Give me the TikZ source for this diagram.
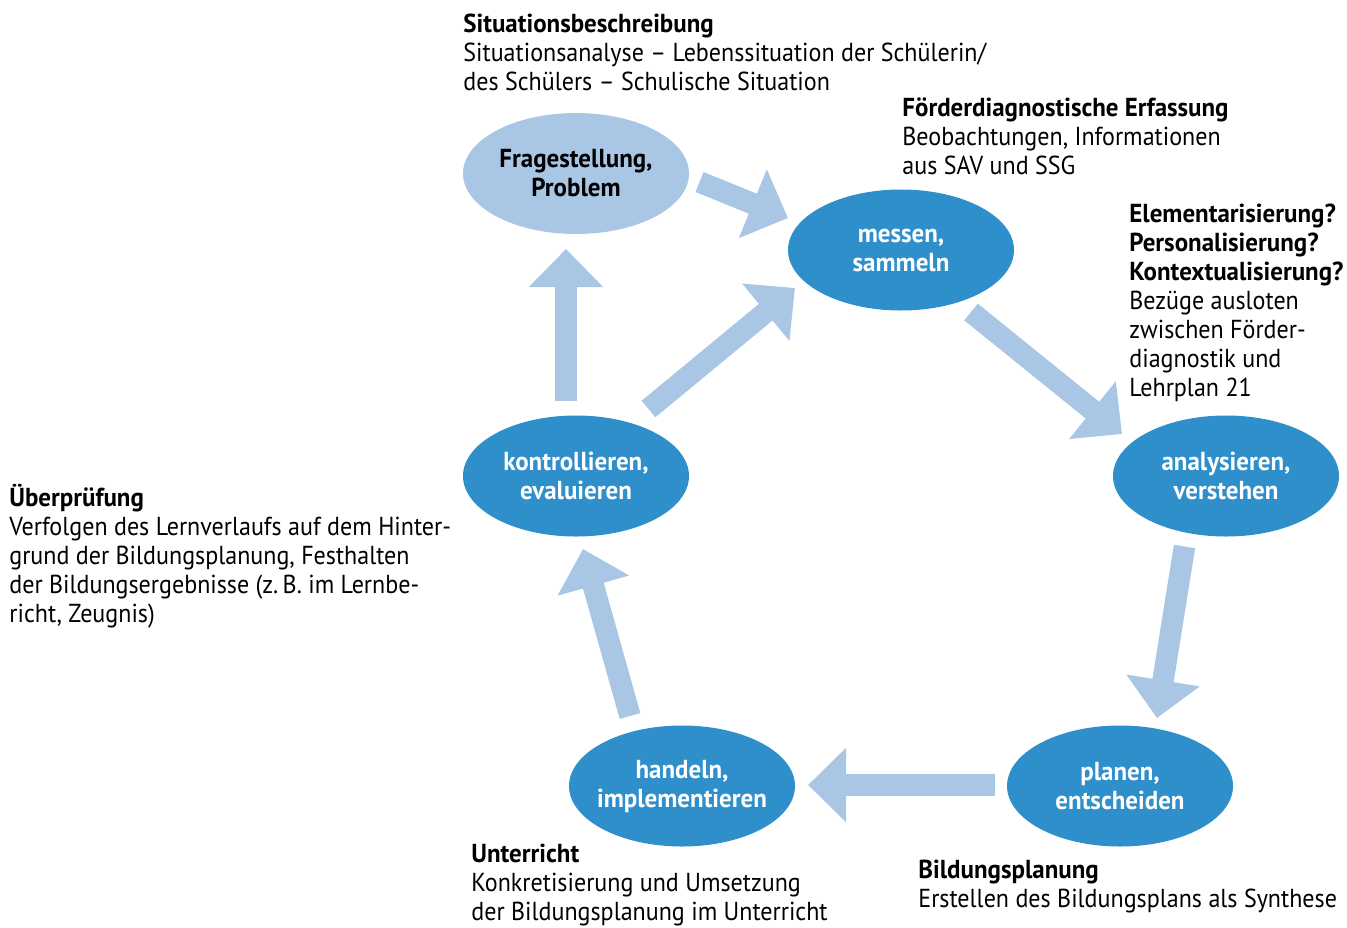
\documentclass[tikz,border=0pt]{standalone}
\usepackage{fontspec}
\setmainfont{PT Sans}[FakeStretch=0.925, BoldFeatures={FakeStretch=0.96}]
\usetikzlibrary{shapes.geometric,arrows.meta,calc}

\definecolor{hellblau}{HTML}{A9C6E4}
\definecolor{dunkelblau}{HTML}{2E8FCA}

\tikzset{
  every node/.style={font=\fontsize{13}{14.5}\selectfont},
  phase/.style={ellipse, fill=dunkelblau, text=white, minimum width=113pt,
    minimum height=60.5pt, inner ysep=0pt, inner xsep=-8pt, align=center,
    font=\fontsize{13}{14.5}\selectfont\bfseries},
  problemfeld/.style={phase, fill=hellblau, text=black},
  pfeil/.style={draw=hellblau, line width=10.75pt, -{Triangle[width=36pt,length=19pt]}},
  infotext/.style={anchor=north west, align=left, inner sep=0pt}
}

\begin{document}
\begin{tikzpicture}[x=0.5pt, y=-0.5pt, line cap=butt, line join=miter]

          % Frame of the whole picture (pixel grid of the reference)
          \useasboundingbox (0,0) rectangle (1347,927);

          % The six phases of the cycle
          \node[problemfeld] (frage)     at (576,173.5) {Fragestellung,\\Problem};
          \node[phase]       (messen)    at (901,250)   {messen,\\sammeln};
          \node[phase]       (analyse)   at (1226,476)  {analysieren,\\verstehen};
          \node[phase]       (plan)      at (1120,786)  {planen,\\entscheiden};
          \node[phase]       (handeln)   at (682,786)   {handeln,\\implementieren};
          \node[phase]       (kontrolle) at (576,476)   {kontrollieren,\\evaluieren};

          % Block arrows between the phases
          \draw[pfeil] ($(frage)+(123.5,8.5)$) -- ($(messen)+(-113,-32)$);
          \draw[pfeil] ($(messen)+(70,62)$) -- ($(analyse)+(-104,-42)$);
          \draw[pfeil] ($(analyse)+(-41.5,70.5)$) -- ($(plan)+(37,-68)$);
          \draw[pfeil] ($(plan)+(-125,-1)$) -- ($(handeln)+(126,-1)$);
          \draw[pfeil] ($(handeln)+(-52,-70)$) -- ($(kontrolle)+(7,73)$);
          \draw[pfeil] ($(kontrolle)+(-10,-75)$) -- ($(frage)+(-10,75.5)$);
          \draw[pfeil] ($(kontrolle)+(72.5,-67)$) -- ($(messen)+(-106,38)$);

          % Descriptions beside the phases
          \node[infotext] (situation) at (463,14)
               {\textbf{Situationsbeschreibung}\\
                Situationsanalyse – Lebenssituation der Schülerin/\\
                des Schülers – Schulische Situation};
          \node[infotext] (erfassung) at (902,97)
               {\textbf{Förderdiagnostische Erfassung}\\
                Beobachtungen, Informationen\\
                aus SAV und SSG};
          \node[infotext] (bezuege) at (1129,204)
               {\textbf{Elementarisierung?}\\
                \textbf{Personalisierung?}\\
                \textbf{Kontextualisierung?}\\
                Bezüge ausloten\\
                zwischen Förder-\\
                diagnostik und\\
                Lehrplan 21};
          \node[infotext] (pruefung) at (9,484)
               {\textbf{Überprüfung}\\
                Verfolgen des Lernverlaufs auf dem Hinter-\\
                grund der Bildungsplanung, Festhalten\\
                der Bildungsergebnisse (z.\,B. im Lernbe-\\
                richt, Zeugnis)};
          \node[infotext] (unterricht) at (471,844)
               {\textbf{Unterricht}\\
                Konkretisierung und Umsetzung\\
                der Bildungsplanung im Unterricht};
          \node[infotext] (bildungsplan) at (918,860)
               {\textbf{Bildungsplanung}\\
                Erstellen des Bildungsplans als Synthese};
        \end{tikzpicture}
\end{document}
